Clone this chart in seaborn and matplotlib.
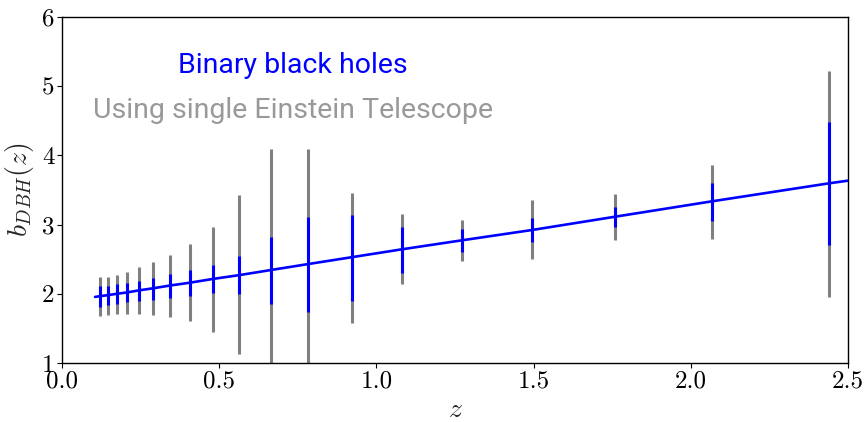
import matplotlib
matplotlib.use("Agg")
import matplotlib.pyplot as plt
import seaborn as sns
import pandas as pd

# ---- data ----
z_bins = [0.121, 0.145, 0.174, 0.207, 0.245, 0.290, 0.344, 0.406, 0.480, 0.564,
          0.666, 0.783, 0.923, 1.081, 1.272, 1.495, 1.759, 2.068, 2.440]
b_center = [1.966, 1.980, 2.000, 2.020, 2.050, 2.080, 2.120, 2.160, 2.215, 2.270,
            2.345, 2.430, 2.530, 2.643, 2.773, 2.922, 3.114, 3.337, 3.597]
gray_hi = [2.247, 2.247, 2.276, 2.319, 2.387, 2.460, 2.565, 2.720, 2.965, 3.423,
           4.092, 4.092, 3.461, 3.149, 3.071, 3.351, 3.447, 3.866, 5.224]
gray_lo = [1.675, 1.698, 1.708, 1.712, 1.712, 1.689, 1.665, 1.607, 1.452, 1.126,
           0.600, 0.770, 1.582, 2.137, 2.470, 2.503, 2.777, 2.792, 1.949]
blue_hi = [2.117, 2.117, 2.137, 2.160, 2.189, 2.233, 2.282, 2.344, 2.416, 2.546,
           2.825, 3.110, 3.139, 2.970, 2.936, 3.091, 3.250, 3.601, 4.478]
blue_lo = [1.814, 1.834, 1.853, 1.882, 1.900, 1.915, 1.935, 1.973, 2.007, 1.997,
           1.853, 1.737, 1.900, 2.305, 2.600, 2.753, 2.970, 3.052, 2.701]
z_line = [0.105] + z_bins + [2.5]
b_line = [1.955] + b_center + [3.635]

title_main = "Binary black holes"
title_sub = "Using single Einstein Telescope"
x_ticks = [0.0, 0.5, 1.0, 1.5, 2.0, 2.5]
y_ticks = [1, 2, 3, 4, 5, 6]

sns.set_theme(style="ticks")
plt.rcParams["font.family"] = ["cmr10", "DejaVu Serif"]
plt.rcParams["mathtext.fontset"] = "cm"
plt.rcParams["axes.unicode_minus"] = False
plt.rcParams["axes.formatter.use_mathtext"] = True

fig = plt.figure(figsize=(8.64, 4.22), dpi=100)
ax = fig.add_axes([0.0718, 0.1398, 0.9097, 0.8199])

df_line = pd.DataFrame({"z": z_line, "b": b_line})

ax.vlines(z_bins, gray_lo, gray_hi, color="#808080", linewidth=2.2, zorder=2)
ax.vlines(z_bins, blue_lo, blue_hi, color="#0000ff", linewidth=2.2, zorder=3)
sns.lineplot(data=df_line, x="z", y="b", color="#0000ff", linewidth=1.9,
             ax=ax, zorder=4, estimator=None, sort=False)

ax.set_xlim(0, 2.5)
ax.set_ylim(1, 6)
ax.set_xticks(x_ticks)
ax.set_yticks(y_ticks)
ax.set_xticklabels([f"{v:.1f}" for v in x_ticks])
ax.set_yticklabels([f"{v}" for v in y_ticks])
ax.tick_params(axis="both", labelsize=18, direction="out", length=3.5,
               width=0.8, colors="black", pad=2)
for s in ax.spines.values():
    s.set_color("black")
    s.set_linewidth(1.0)

ax.set_xlabel("$z$", fontsize=20, labelpad=3)
ax.set_ylabel("$b_{DBH}(z)$", fontsize=20, labelpad=4)

ax.text(0.735, 5.19, title_main, color="#0000ff", fontsize=20.5,
        ha="center", va="baseline", fontweight="normal",
        family=["Roboto", "DejaVu Sans"])
ax.text(0.735, 4.54, title_sub, color="#999999", fontsize=20.5,
        ha="center", va="baseline", fontweight="normal",
        family=["Roboto", "DejaVu Sans"])

fig.savefig("out.png", dpi=100)
